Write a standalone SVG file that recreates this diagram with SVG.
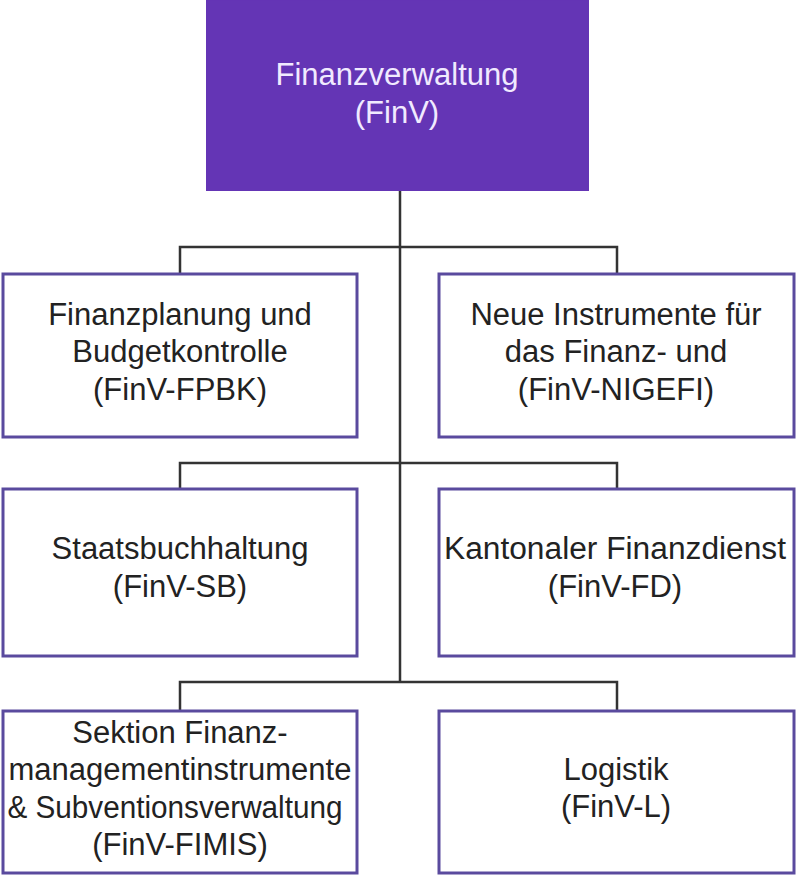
<svg xmlns="http://www.w3.org/2000/svg" width="797" height="878" viewBox="0 0 797 878">
<style>
.box{fill:#ffffff;stroke:#5a4a9e;stroke-width:3}
.top{fill:#6435b5;stroke:#6435b5;stroke-width:1}
.t{font-family:"Liberation Sans",Arial,sans-serif;font-size:31px;text-anchor:middle;fill:#222222}
.tw{font-family:"Liberation Sans",Arial,sans-serif;font-size:31px;text-anchor:middle;fill:#f1eaff}
.c{fill:none;stroke:#333333;stroke-width:2.5}
</style>
<rect width="797" height="878" fill="#ffffff"/>
<g id="connectors">
<path class="c" d="M400,190 V682"/>
<path class="c" d="M180,274 V247 H617 V274"/>
<path class="c" d="M180,489 V463 H617 V489"/>
<path class="c" d="M180,711 V682 H617 V711"/>
</g>
<g id="finv">
<rect class="top" x="206.5" y="0" width="382" height="190.5"/>
<text class="tw" x="397" y="85">Finanzverwaltung</text>
<text class="tw" x="397" y="123">(FinV)</text>
</g>
<g id="fpbk">
<rect class="box" x="3" y="274" width="354" height="163"/>
<text class="t" x="180" y="325">Finanzplanung und</text>
<text class="t" x="180" y="362">Budgetkontrolle</text>
<text class="t" x="180" y="400">(FinV-FPBK)</text>
</g>
<g id="nigefi">
<rect class="box" x="439" y="274" width="355" height="163"/>
<text class="t" x="616" y="325">Neue Instrumente für</text>
<text class="t" x="616" y="362">das Finanz- und</text>
<text class="t" x="616" y="400">(FinV-NIGEFI)</text>
</g>
<g id="sb">
<rect class="box" x="3" y="489" width="354" height="167"/>
<text class="t" x="180" y="559">Staatsbuchhaltung</text>
<text class="t" x="180" y="597">(FinV-SB)</text>
</g>
<g id="fd">
<rect class="box" x="439" y="489" width="355" height="167"/>
<text class="t" x="615" y="559" textLength="342" lengthAdjust="spacingAndGlyphs">Kantonaler Finanzdienst</text>
<text class="t" x="615" y="597">(FinV-FD)</text>
</g>
<g id="fimis">
<rect class="box" x="3" y="711" width="354" height="162"/>
<text class="t" x="180" y="743">Sektion Finanz-</text>
<text class="t" x="180" y="780">managementinstrumente</text>
<text class="t" x="175" y="818" textLength="335" lengthAdjust="spacingAndGlyphs">&amp; Subventionsverwaltung</text>
<text class="t" x="180" y="855">(FinV-FIMIS)</text>
</g>
<g id="logistik">
<rect class="box" x="439" y="711" width="355" height="162"/>
<text class="t" x="616" y="780">Logistik</text>
<text class="t" x="616" y="817">(FinV-L)</text>
</g>
</svg>
